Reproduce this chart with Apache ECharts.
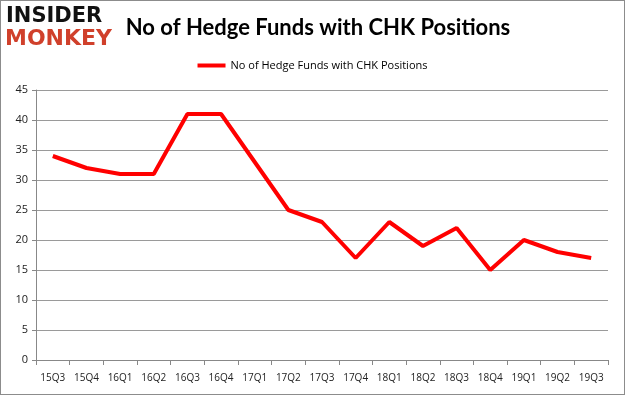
<!DOCTYPE html>
<html><head><meta charset="utf-8">
<script src="https://cdn.jsdelivr.net/npm/echarts@6/dist/echarts.min.js"></script>
<style>html,body{margin:0;padding:0;background:#fff}#c{width:625px;height:395px;box-sizing:border-box;border:1px solid #8c8c8c}</style>
</head><body><div id="c"></div>
<script>
const categories = ["15Q3","15Q4","16Q1","16Q2","16Q3","16Q4","17Q1","17Q2","17Q3","17Q4","18Q1","18Q2","18Q3","18Q4","19Q1","19Q2","19Q3"];
const values = [34,32,31,31,41,41,33,25,23,17,23,19,22,15,20,18,17];
const seriesName = "No of Hedge Funds with CHK Positions";
const titleText = "No of Hedge Funds with CHK Positions";
const chart = echarts.init(document.getElementById('c'), null, {renderer:'canvas'});
chart.setOption({
  animation:false,
  title:{text:titleText,left:312,top:11,textAlign:'center',textStyle:{fontFamily:'Lato',fontWeight:'bold',fontSize:22,color:'#000'}},
  graphic:[
    {type:'text',left:5,top:5,style:{text:'INSIDER',fontFamily:'DejaVu Sans',fontWeight:'bold',fontSize:21,fill:'#111'}},
    {type:'text',left:4,top:27,style:{text:'MONKEY',fontFamily:'DejaVu Sans',fontWeight:'bold',fontSize:22,fill:'#d0402b'}}
  ],
  legend:{top:54,left:'center',itemWidth:28,itemHeight:4,itemGap:2,icon:'rect',textStyle:{fontFamily:'Open Sans',fontSize:11,color:'#000'},data:[seriesName]},
  grid:{left:35,right:16,top:89,bottom:34,containLabel:false},
  xAxis:{type:'category',data:categories,boundaryGap:true,
    axisLine:{lineStyle:{color:'#888'}},axisTick:{show:true,alignWithLabel:false,length:5,lineStyle:{color:'#888'}},
    axisLabel:{fontFamily:'Open Sans',fontSize:10,color:'#222',margin:13,interval:0}},
  yAxis:{type:'value',min:0,max:45,interval:5,
    axisLine:{show:true,lineStyle:{color:'#888'}},axisTick:{show:true,length:4,lineStyle:{color:'#888'}},
    splitLine:{lineStyle:{color:'#9a9a9a'}},
    axisLabel:{fontFamily:'Open Sans',fontSize:11,color:'#222',margin:8}},
  series:[{name:seriesName,type:'line',data:values,symbol:'none',lineStyle:{color:'#ff0000',width:4},itemStyle:{color:'#ff0000'}}]
});
</script></body></html>
